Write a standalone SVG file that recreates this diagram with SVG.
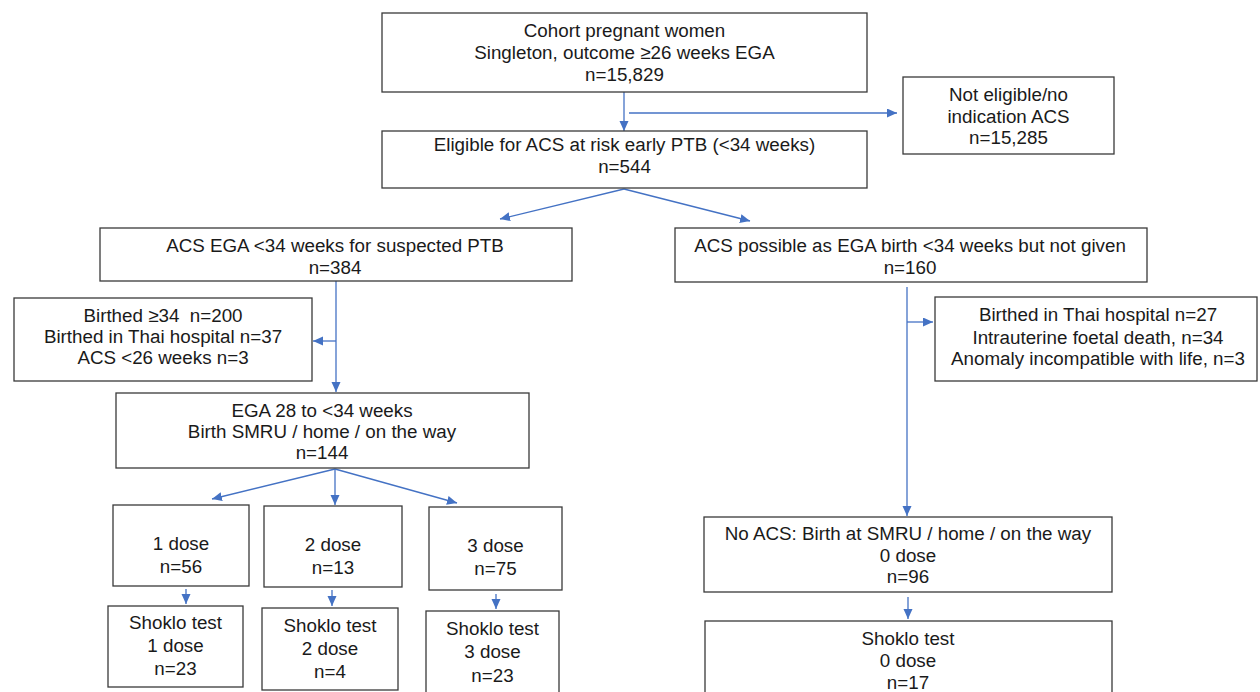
<svg xmlns="http://www.w3.org/2000/svg" width="1260" height="692" viewBox="0 0 1260 692">
<style>
.box{fill:#fff;stroke:#3a3a3a;stroke-width:1.3}
.t{font-family:"Liberation Sans",Arial,sans-serif;font-size:18.8px;fill:#1a1a1a;text-anchor:middle}
.c{fill:none;stroke:#4472C4;stroke-width:1.3}
</style>
<defs>
<marker id="ah" markerUnits="userSpaceOnUse" markerWidth="11" markerHeight="10" refX="10" refY="4.5" orient="auto">
<path d="M0,0 L10,4.5 L0,9 z" fill="#4472C4"/>
</marker>
</defs>
<rect width="1260" height="692" fill="#fff"/>
<g id="connectors">
<path class="c" d="M624,92 V131" marker-end="url(#ah)"/>
<path class="c" d="M629,113 H897" marker-end="url(#ah)"/>
<path class="c" d="M624,189 L500,219" marker-end="url(#ah)"/>
<path class="c" d="M624,189 L750,221" marker-end="url(#ah)"/>
<path class="c" d="M336,281 V392" marker-end="url(#ah)"/>
<path class="c" d="M336,341 H313" marker-end="url(#ah)"/>
<path class="c" d="M335,469 L212,499" marker-end="url(#ah)"/>
<path class="c" d="M335,469 V505" marker-end="url(#ah)"/>
<path class="c" d="M335,469 L457,503" marker-end="url(#ah)"/>
<path class="c" d="M186,589 V604" marker-end="url(#ah)"/>
<path class="c" d="M332,590 V606" marker-end="url(#ah)"/>
<path class="c" d="M496,594 V609" marker-end="url(#ah)"/>
<path class="c" d="M907,287 V516" marker-end="url(#ah)"/>
<path class="c" d="M907,322 H933" marker-end="url(#ah)"/>
<path class="c" d="M908,597 V619" marker-end="url(#ah)"/>
</g>
<g id="cohort"><rect class="box" x="382" y="13" width="485" height="79"/>
<text class="t" x="624.5" y="37">Cohort pregnant women</text>
<text class="t" x="624.5" y="59">Singleton, outcome ≥26 weeks EGA</text>
<text class="t" x="624.5" y="81">n=15,829</text></g>
<g id="noteligible"><rect class="box" x="903" y="77" width="211" height="77"/>
<text class="t" x="1008.5" y="101">Not eligible/no</text>
<text class="t" x="1008.5" y="123">indication ACS</text>
<text class="t" x="1008.5" y="144">n=15,285</text></g>
<g id="eligible"><rect class="box" x="382" y="131" width="485" height="57"/>
<text class="t" x="624.5" y="151">Eligible for ACS at risk early PTB (&lt;34 weeks)</text>
<text class="t" x="624.5" y="173">n=544</text></g>
<g id="acsega"><rect class="box" x="100" y="228" width="472" height="53"/>
<text class="t" x="335" y="252">ACS EGA &lt;34 weeks for suspected PTB</text>
<text class="t" x="335" y="274">n=384</text></g>
<g id="acspossible"><rect class="box" x="675" y="228" width="472" height="54"/>
<text class="t" x="910" y="252">ACS possible as EGA birth &lt;34 weeks but not given</text>
<text class="t" x="910" y="274">n=160</text></g>
<g id="birthed"><rect class="box" x="14" y="298" width="298" height="83"/>
<text class="t" x="163" y="322" xml:space="preserve">Birthed ≥34  n=200</text>
<text class="t" x="163" y="343">Birthed in Thai hospital n=37</text>
<text class="t" x="163" y="364">ACS &lt;26 weeks n=3</text></g>
<g id="thai"><rect class="box" x="935" y="297" width="322" height="84"/>
<text class="t" x="1098" y="321">Birthed in Thai hospital n=27</text>
<text class="t" x="1098" y="344">Intrauterine foetal death, n=34</text>
<text class="t" x="1098" y="365">Anomaly incompatible with life, n=3</text></g>
<g id="ega28"><rect class="box" x="116" y="393" width="413" height="75"/>
<text class="t" x="322" y="417">EGA 28 to &lt;34 weeks</text>
<text class="t" x="322" y="438">Birth SMRU / home / on the way</text>
<text class="t" x="322" y="459">n=144</text></g>
<g id="dose1"><rect class="box" x="113" y="505" width="136" height="81"/>
<text class="t" x="181" y="550">1 dose</text>
<text class="t" x="181" y="573">n=56</text></g>
<g id="dose2"><rect class="box" x="264" y="506" width="138" height="81"/>
<text class="t" x="333" y="551">2 dose</text>
<text class="t" x="333" y="574">n=13</text></g>
<g id="dose3"><rect class="box" x="429" y="507" width="133" height="83"/>
<text class="t" x="495.5" y="552">3 dose</text>
<text class="t" x="495.5" y="575">n=75</text></g>
<g id="shoklo1"><rect class="box" x="108" y="606" width="135" height="81"/>
<text class="t" x="175.5" y="629">Shoklo test</text>
<text class="t" x="175.5" y="652">1 dose</text>
<text class="t" x="175.5" y="675">n=23</text></g>
<g id="shoklo2"><rect class="box" x="262" y="608" width="136" height="82"/>
<text class="t" x="330" y="632">Shoklo test</text>
<text class="t" x="330" y="655">2 dose</text>
<text class="t" x="330" y="678">n=4</text></g>
<g id="shoklo3"><rect class="box" x="426" y="611" width="133" height="86"/>
<text class="t" x="492.5" y="635">Shoklo test</text>
<text class="t" x="492.5" y="658">3 dose</text>
<text class="t" x="492.5" y="682">n=23</text></g>
<g id="noacs"><rect class="box" x="704" y="517" width="408" height="75"/>
<text class="t" x="908" y="540">No ACS: Birth at SMRU / home / on the way</text>
<text class="t" x="908" y="562">0 dose</text>
<text class="t" x="908" y="583">n=96</text></g>
<g id="shoklo0"><rect class="box" x="705" y="621" width="407" height="76"/>
<text class="t" x="908" y="645">Shoklo test</text>
<text class="t" x="908" y="667">0 dose</text>
<text class="t" x="908" y="689">n=17</text></g>
</svg>
